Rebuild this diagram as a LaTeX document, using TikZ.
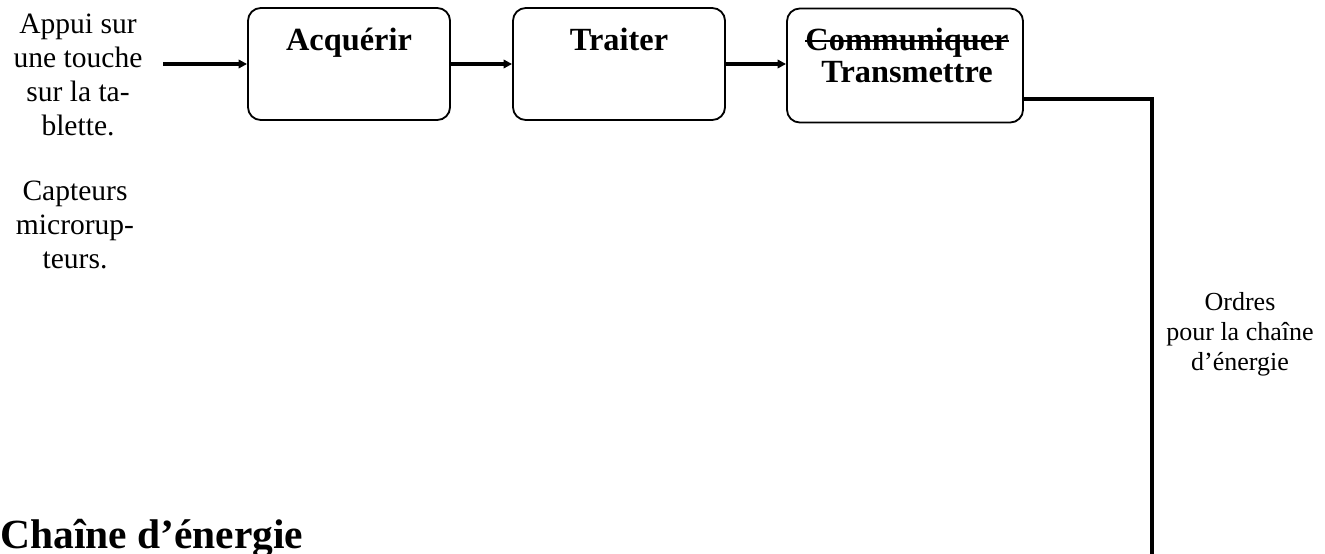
\documentclass[tikz,border=0pt]{standalone}
\usepackage{fontspec}
\setmainfont{Liberation Serif}
\usetikzlibrary{arrows.meta,positioning}
\newcommand{\barre}[1]{\setbox0\hbox{#1}\rlap{\copy0}\rule[0.25em]{\wd0}{1.4pt}}

\begin{document}
\begin{tikzpicture}[x=0.025cm, y=-0.025cm,
  bloc/.style={rectangle, rounded corners=0.32cm, draw, line width=1.3pt, minimum height=2.8cm},
  titre/.style={anchor=base, inner sep=0pt, align=center, font=\bfseries\fontsize{23}{22.7}\selectfont},
  entree/.style={anchor=base, inner sep=0pt, align=center, font=\fontsize{21}{24}\selectfont},
  ordre/.style={anchor=base, inner sep=0pt, align=center, font=\fontsize{18.5}{21}\selectfont},
  fleche/.style={draw, line width=2.2pt, -{Triangle[length=6pt, width=6pt]}},
]
\useasboundingbox (0,0) rectangle (1325,553);

% chaine d'information
\node[bloc, minimum width=5.05cm] (acq) at (349,64) {};
\node[bloc, minimum width=5.3cm] (trait) at (619,64) {};
\node[bloc, minimum width=5.9cm, minimum height=2.85cm] (trans) at (905,65.5) {};

\node[titre] (acqtxt) at (349,50) {Acquérir};
\node[titre] (traittxt) at (619,50) {Traiter};
\node[titre] (transtxt) at (907,82) {\barre{Communiquer}\\Transmettre};

% entrees
\node[entree] (appui) at (78,135) {Appui sur\\une touche\\sur la ta-\\blette.};
\node[entree] (capteurs) at (75,268) {Capteurs\\microrup-\\teurs.};
\coordinate (depart) at (163,64);

\draw[fleche] (depart) -- (acq.west);
\draw[fleche] (acq.east) -- (trait.west);
\draw[fleche] (trait.east) -- (trait.east -| trans.west);

% ordres vers la chaine d'energie
\coordinate (coude) at (1152,99);
\coordinate (bas) at (1152,560);
\draw[line width=2.2pt] (trans.east |- coude) -- (coude) -- (bas);
\node[ordre] (ordres) at (1240,370) {Ordres\\pour la chaîne\\d’énergie};

\node[anchor=base west, inner sep=0pt, font=\bfseries\fontsize{29.5}{36}\selectfont] (energie) at (0,548) {Chaîne d’énergie};
\end{tikzpicture}
\end{document}
